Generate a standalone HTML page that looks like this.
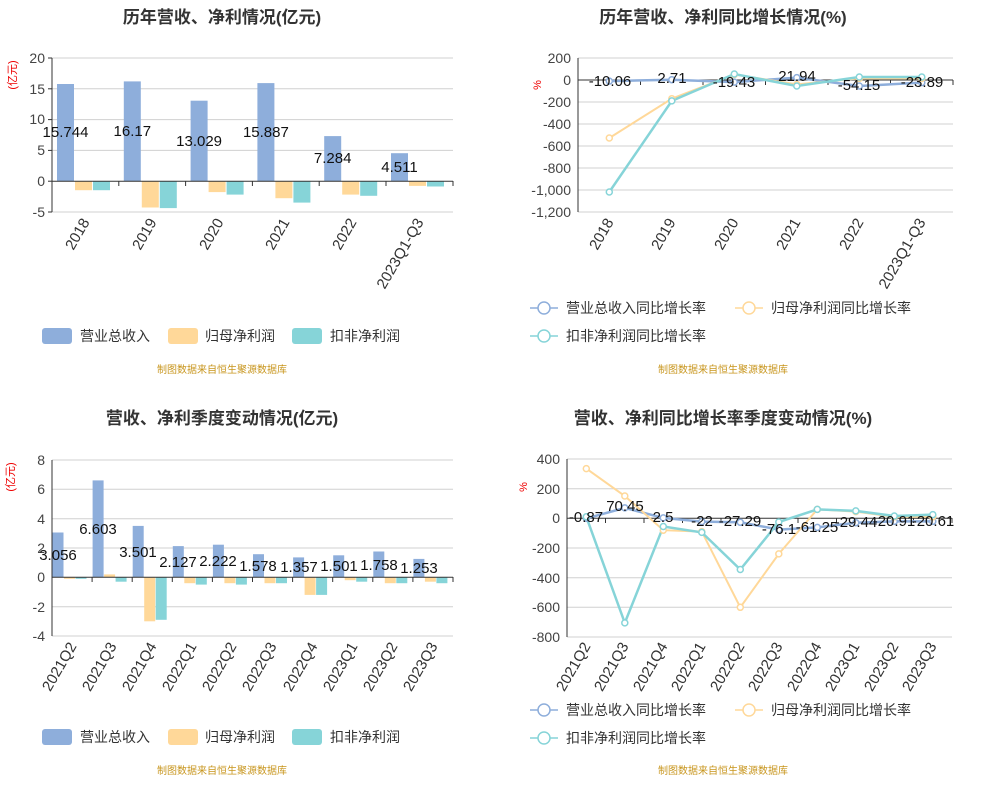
<!DOCTYPE html>
<html><head><meta charset="utf-8"><style>
body{margin:0;background:#fff}
svg{display:block;font-family:"Liberation Sans","Noto Sans CJK SC",sans-serif}
.t{font-size:17px;font-weight:bold;fill:#333;text-anchor:middle}
.ax{font-size:14px;fill:#444;text-anchor:end}
.xl{font-size:15px;fill:#333;text-anchor:end}
.lb{font-size:15px;fill:#111;text-anchor:middle}
.lg{font-size:14px;fill:#333}
.src{font-size:10px;fill:#c8961e;text-anchor:middle}
.g{stroke:#d0d0d0;stroke-width:1}
</style></head><body>
<svg width="993" height="794" viewBox="0 0 993 794">
<!-- ===== Chart 1 ===== -->
<text class="t" x="222" y="23">历年营收、净利情况(亿元)</text>
<g class="g"><line x1="52" x2="453" y1="58" y2="58"/><line x1="52" x2="453" y1="88.8" y2="88.8"/><line x1="52" x2="453" y1="119.6" y2="119.6"/><line x1="52" x2="453" y1="150.4" y2="150.4"/><line x1="52" x2="453" y1="212" y2="212"/></g>
<g class="ax"><text x="45" y="63">20</text><text x="45" y="94">15</text><text x="45" y="124">10</text><text x="45" y="155">5</text><text x="45" y="186">0</text><text x="45" y="217">-5</text></g>
<text x="16" y="75" transform="rotate(-90 16 75)" style="font-size:11px;fill:#e00;text-anchor:middle">(亿元)</text>
<g fill="#8eaedb"><rect x="57" y="84" width="17" height="97"/><rect x="123.8" y="81.4" width="17" height="99.6"/><rect x="190.6" y="100.7" width="17" height="80.3"/><rect x="257.4" y="83.1" width="17" height="97.9"/><rect x="324.2" y="136.1" width="17" height="44.9"/><rect x="391" y="153.2" width="17" height="27.8"/></g>
<g fill="#ffd899"><rect x="75" y="181" width="17" height="9.2"/><rect x="141.8" y="181" width="17" height="26.5"/><rect x="208.6" y="181" width="17" height="11.1"/><rect x="275.4" y="181" width="17" height="17.2"/><rect x="342.2" y="181" width="17" height="13.6"/><rect x="409" y="181" width="17" height="4.9"/></g>
<g fill="#86d4d8"><rect x="93" y="181" width="17" height="9.2"/><rect x="159.8" y="181" width="17" height="27.1"/><rect x="226.6" y="181" width="17" height="13.6"/><rect x="293.4" y="181" width="17" height="21.6"/><rect x="360.2" y="181" width="17" height="14.8"/><rect x="427" y="181" width="17" height="5.5"/></g>
<g stroke="#333" stroke-width="1"><line x1="52" x2="52" y1="58" y2="212"/><line x1="48" x2="52" y1="58" y2="58"/><line x1="48" x2="52" y1="88.8" y2="88.8"/><line x1="48" x2="52" y1="119.6" y2="119.6"/><line x1="48" x2="52" y1="150.4" y2="150.4"/><line x1="48" x2="52" y1="181.2" y2="181.2"/><line x1="48" x2="52" y1="212" y2="212"/>
<line x1="52" x2="453" y1="181.2" y2="181.2"/><line x1="118.8" x2="118.8" y1="181" y2="186"/><line x1="185.6" x2="185.6" y1="181" y2="186"/><line x1="252.4" x2="252.4" y1="181" y2="186"/><line x1="319.2" x2="319.2" y1="181" y2="186"/><line x1="386" x2="386" y1="181" y2="186"/><line x1="453" x2="453" y1="181" y2="186"/></g>
<g class="lb"><text x="65.5" y="137">15.744</text><text x="132.3" y="136">16.17</text><text x="199.1" y="146">13.029</text><text x="265.9" y="137">15.887</text><text x="332.7" y="163">7.284</text><text x="399.5" y="172">4.511</text></g>
<g class="xl"><text transform="translate(90,222) rotate(-60)">2018</text><text transform="translate(157,222) rotate(-60)">2019</text><text transform="translate(224,222) rotate(-60)">2020</text><text transform="translate(290,222) rotate(-60)">2021</text><text transform="translate(357,222) rotate(-60)">2022</text><text transform="translate(424,222) rotate(-60)">2023Q1-Q3</text></g>
<rect x="42" y="328" width="30" height="16" rx="3" fill="#8eaedb"/><text class="lg" x="80" y="341">营业总收入</text>
<rect x="168" y="328" width="30" height="16" rx="3" fill="#ffd899"/><text class="lg" x="205" y="341">归母净利润</text>
<rect x="292" y="328" width="30" height="16" rx="3" fill="#86d4d8"/><text class="lg" x="330" y="341">扣非净利润</text>
<text class="src" x="222" y="373">制图数据来自恒生聚源数据库</text>

<!-- ===== Chart 2 ===== -->
<text class="t" x="723" y="23">历年营收、净利同比增长情况(%)</text>
<g class="g"><line x1="578" x2="953" y1="58" y2="58"/><line x1="578" x2="953" y1="102" y2="102"/><line x1="578" x2="953" y1="124" y2="124"/><line x1="578" x2="953" y1="146" y2="146"/><line x1="578" x2="953" y1="168" y2="168"/><line x1="578" x2="953" y1="190" y2="190"/><line x1="578" x2="953" y1="212" y2="212"/></g>
<g class="ax"><text x="571" y="63">200</text><text x="571" y="85">0</text><text x="571" y="107">-200</text><text x="571" y="129">-400</text><text x="571" y="151">-600</text><text x="571" y="173">-800</text><text x="571" y="195">-1,000</text><text x="571" y="217">-1,200</text></g>
<text x="541" y="85" transform="rotate(-90 541 85)" style="font-size:11px;fill:#e00;text-anchor:middle">%</text>
<g stroke="#333" stroke-width="1"><line x1="578" x2="578" y1="58" y2="212"/><line x1="578" x2="953" y1="80" y2="80"/><line x1="640.5" x2="640.5" y1="80" y2="85"/><line x1="703" x2="703" y1="80" y2="85"/><line x1="765.5" x2="765.5" y1="80" y2="85"/><line x1="828" x2="828" y1="80" y2="85"/><line x1="890.5" x2="890.5" y1="80" y2="85"/><line x1="953" x2="953" y1="80" y2="85"/></g>
<polyline fill="none" stroke="#8eaedb" stroke-width="2.5" points="609.3,81.1 671.8,79.7 734.3,82.1 796.8,77.6 859.3,86 921.8,82.6"/>
<polyline fill="none" stroke="#ffd899" stroke-width="2" points="609.3,138 671.8,98.7 734.3,74.5 796.8,84.4 859.3,78.4 921.8,78.4"/>
<polyline fill="none" stroke="#86d4d8" stroke-width="2.5" points="609.3,192 671.8,100.9 734.3,74 796.8,86 859.3,77 921.8,77"/>
<g fill="#fff" stroke-width="1.5"><g stroke="#8eaedb"><circle cx="609.3" cy="81.1" r="3"/><circle cx="671.8" cy="79.7" r="3"/><circle cx="734.3" cy="82.1" r="3"/><circle cx="796.8" cy="77.6" r="3"/><circle cx="859.3" cy="86" r="3"/><circle cx="921.8" cy="82.6" r="3"/></g>
<g stroke="#ffd899"><circle cx="609.3" cy="138" r="3"/><circle cx="671.8" cy="98.7" r="3"/><circle cx="734.3" cy="74.5" r="3"/><circle cx="796.8" cy="84.4" r="3"/><circle cx="859.3" cy="78.4" r="3"/><circle cx="921.8" cy="78.4" r="3"/></g>
<g stroke="#86d4d8"><circle cx="609.3" cy="192" r="3"/><circle cx="671.8" cy="100.9" r="3"/><circle cx="734.3" cy="74" r="3"/><circle cx="796.8" cy="86" r="3"/><circle cx="859.3" cy="77" r="3"/><circle cx="921.8" cy="77" r="3"/></g></g>
<g class="lb"><text x="610" y="86">-10.06</text><text x="672" y="83">2.71</text><text x="734" y="87">-19.43</text><text x="797" y="81">21.94</text><text x="859" y="90">-54.15</text><text x="922" y="87">-23.89</text></g>
<g class="xl"><text transform="translate(614,222) rotate(-60)">2018</text><text transform="translate(676,222) rotate(-60)">2019</text><text transform="translate(739,222) rotate(-60)">2020</text><text transform="translate(801,222) rotate(-60)">2021</text><text transform="translate(864,222) rotate(-60)">2022</text><text transform="translate(926,222) rotate(-60)">2023Q1-Q3</text></g>
<g fill="#fff" stroke-width="1.5"><line x1="530" x2="558" y1="308" y2="308" stroke="#8eaedb"/><circle cx="544" cy="308" r="6" stroke="#8eaedb"/><line x1="735" x2="763" y1="308" y2="308" stroke="#ffd899"/><circle cx="749" cy="308" r="6" stroke="#ffd899"/><line x1="530" x2="558" y1="336" y2="336" stroke="#86d4d8"/><circle cx="544" cy="336" r="6" stroke="#86d4d8"/></g>
<text class="lg" x="566" y="313">营业总收入同比增长率</text><text class="lg" x="771" y="313">归母净利润同比增长率</text><text class="lg" x="566" y="341">扣非净利润同比增长率</text>
<text class="src" x="723" y="373">制图数据来自恒生聚源数据库</text>

<!-- ===== Chart 3 ===== -->
<text class="t" x="222" y="424">营收、净利季度变动情况(亿元)</text>
<g class="g"><line x1="52" x2="453" y1="460" y2="460"/><line x1="52" x2="453" y1="489.3" y2="489.3"/><line x1="52" x2="453" y1="518.7" y2="518.7"/><line x1="52" x2="453" y1="548" y2="548"/><line x1="52" x2="453" y1="606.7" y2="606.7"/><line x1="52" x2="453" y1="636" y2="636"/></g>
<g class="ax"><text x="45" y="465">8</text><text x="45" y="494">6</text><text x="45" y="524">4</text><text x="45" y="553">2</text><text x="45" y="582">0</text><text x="45" y="612">-2</text><text x="45" y="641">-4</text></g>
<text x="14" y="477" transform="rotate(-90 14 477)" style="font-size:11px;fill:#e00;text-anchor:middle">(亿元)</text>
<g fill="#8eaedb"><rect x="52.5" y="532.5" width="11" height="44.8"/><rect x="92.6" y="480.4" width="11" height="96.9"/><rect x="132.7" y="525.9" width="11" height="51.4"/><rect x="172.8" y="546.1" width="11" height="31.2"/><rect x="212.9" y="544.7" width="11" height="32.6"/><rect x="253" y="554.2" width="11" height="23.1"/><rect x="293.1" y="557.4" width="11" height="19.9"/><rect x="333.2" y="555.3" width="11" height="22"/><rect x="373.3" y="551.5" width="11" height="25.8"/><rect x="413.4" y="558.9" width="11" height="18.4"/></g>
<g fill="#ffd899"><rect x="64" y="577.3" width="11" height="1.5"/><rect x="104.1" y="574.4" width="11" height="2.9"/><rect x="144.2" y="577.3" width="11" height="44"/><rect x="184.3" y="577.3" width="11" height="5.9"/><rect x="224.4" y="577.3" width="11" height="5.9"/><rect x="264.5" y="577.3" width="11" height="5.9"/><rect x="304.6" y="577.3" width="11" height="17.6"/><rect x="344.7" y="577.3" width="11" height="2.9"/><rect x="384.8" y="577.3" width="11" height="5.9"/><rect x="424.9" y="577.3" width="11" height="4.4"/></g>
<g fill="#86d4d8"><rect x="75.5" y="577.3" width="11" height="1.5"/><rect x="115.6" y="577.3" width="11" height="4.4"/><rect x="155.7" y="577.3" width="11" height="42.5"/><rect x="195.8" y="577.3" width="11" height="7.3"/><rect x="235.9" y="577.3" width="11" height="7.3"/><rect x="276" y="577.3" width="11" height="5.9"/><rect x="316.1" y="577.3" width="11" height="17.6"/><rect x="356.2" y="577.3" width="11" height="4.4"/><rect x="396.3" y="577.3" width="11" height="5.9"/><rect x="436.4" y="577.3" width="11" height="5.9"/></g>
<g stroke="#333" stroke-width="1"><line x1="52" x2="52" y1="460" y2="636"/><line x1="52" x2="453" y1="577.3" y2="577.3"/><line x1="92.1" x2="92.1" y1="577" y2="582"/><line x1="132.2" x2="132.2" y1="577" y2="582"/><line x1="172.3" x2="172.3" y1="577" y2="582"/><line x1="212.4" x2="212.4" y1="577" y2="582"/><line x1="252.5" x2="252.5" y1="577" y2="582"/><line x1="292.6" x2="292.6" y1="577" y2="582"/><line x1="332.7" x2="332.7" y1="577" y2="582"/><line x1="372.8" x2="372.8" y1="577" y2="582"/><line x1="412.9" x2="412.9" y1="577" y2="582"/><line x1="453" x2="453" y1="577" y2="582"/></g>
<g class="lb"><text x="58" y="560">3.056</text><text x="98" y="534">6.603</text><text x="138" y="557">3.501</text><text x="178" y="567">2.127</text><text x="218" y="566">2.222</text><text x="258" y="571">1.578</text><text x="299" y="572">1.357</text><text x="339" y="571">1.501</text><text x="379" y="570">1.758</text><text x="419" y="573">1.253</text></g>
<g class="xl"><text transform="translate(77,646) rotate(-60)">2021Q2</text><text transform="translate(117,646) rotate(-60)">2021Q3</text><text transform="translate(157,646) rotate(-60)">2021Q4</text><text transform="translate(197,646) rotate(-60)">2022Q1</text><text transform="translate(237,646) rotate(-60)">2022Q2</text><text transform="translate(277,646) rotate(-60)">2022Q3</text><text transform="translate(318,646) rotate(-60)">2022Q4</text><text transform="translate(358,646) rotate(-60)">2023Q1</text><text transform="translate(398,646) rotate(-60)">2023Q2</text><text transform="translate(438,646) rotate(-60)">2023Q3</text></g>
<rect x="42" y="729" width="30" height="16" rx="3" fill="#8eaedb"/><text class="lg" x="80" y="742">营业总收入</text>
<rect x="168" y="729" width="30" height="16" rx="3" fill="#ffd899"/><text class="lg" x="205" y="742">归母净利润</text>
<rect x="292" y="729" width="30" height="16" rx="3" fill="#86d4d8"/><text class="lg" x="330" y="742">扣非净利润</text>
<text class="src" x="222" y="774">制图数据来自恒生聚源数据库</text>

<!-- ===== Chart 4 ===== -->
<text class="t" x="723" y="424">营收、净利同比增长率季度变动情况(%)</text>
<g class="g"><line x1="567" x2="952" y1="459" y2="459"/><line x1="567" x2="952" y1="488.7" y2="488.7"/><line x1="567" x2="952" y1="548" y2="548"/><line x1="567" x2="952" y1="577.7" y2="577.7"/><line x1="567" x2="952" y1="607.3" y2="607.3"/><line x1="567" x2="952" y1="637" y2="637"/></g>
<g class="ax"><text x="560" y="464">400</text><text x="560" y="494">200</text><text x="560" y="523">0</text><text x="560" y="553">-200</text><text x="560" y="583">-400</text><text x="560" y="612">-600</text><text x="560" y="642">-800</text></g>
<text x="527" y="487" transform="rotate(-90 527 487)" style="font-size:11px;fill:#e00;text-anchor:middle">%</text>
<g stroke="#333" stroke-width="1"><line x1="567" x2="567" y1="459" y2="637"/><line x1="567" x2="952" y1="518.3" y2="518.3"/><line x1="605.5" x2="605.5" y1="518" y2="523"/><line x1="644" x2="644" y1="518" y2="523"/><line x1="682.5" x2="682.5" y1="518" y2="523"/><line x1="721" x2="721" y1="518" y2="523"/><line x1="759.5" x2="759.5" y1="518" y2="523"/><line x1="798" x2="798" y1="518" y2="523"/><line x1="836.5" x2="836.5" y1="518" y2="523"/><line x1="875" x2="875" y1="518" y2="523"/><line x1="913.5" x2="913.5" y1="518" y2="523"/><line x1="952" x2="952" y1="518" y2="523"/></g>
<polyline fill="none" stroke="#8eaedb" stroke-width="2.5" points="586.3,518.4 624.8,507.9 663.3,517.9 701.8,521.6 740.3,522.3 778.8,529.6 817.3,527.4 855.8,522.7 894.3,521.4 932.8,521.4"/>
<polyline fill="none" stroke="#ffd899" stroke-width="2" points="586.3,468.6 624.8,496 663.3,530.2 701.8,531.6 740.3,607.3 778.8,553.9 817.3,509.4 855.8,511.6 894.3,516.8 932.8,516.8"/>
<polyline fill="none" stroke="#86d4d8" stroke-width="2.5" points="586.3,516.8 624.8,622.9 663.3,526.5 701.8,532.4 740.3,569.5 778.8,522 817.3,509.4 855.8,510.9 894.3,516 932.8,514.6"/>
<g fill="#fff" stroke-width="1.5"><g stroke="#8eaedb"><circle cx="586.3" cy="518.4" r="3"/><circle cx="624.8" cy="507.9" r="3"/><circle cx="663.3" cy="517.9" r="3"/><circle cx="701.8" cy="521.6" r="3"/><circle cx="740.3" cy="522.3" r="3"/><circle cx="778.8" cy="529.6" r="3"/><circle cx="817.3" cy="527.4" r="3"/><circle cx="855.8" cy="522.7" r="3"/><circle cx="894.3" cy="521.4" r="3"/><circle cx="932.8" cy="521.4" r="3"/></g>
<g stroke="#ffd899"><circle cx="586.3" cy="468.6" r="3"/><circle cx="624.8" cy="496" r="3"/><circle cx="663.3" cy="530.2" r="3"/><circle cx="701.8" cy="531.6" r="3"/><circle cx="740.3" cy="607.3" r="3"/><circle cx="778.8" cy="553.9" r="3"/><circle cx="817.3" cy="509.4" r="3"/><circle cx="855.8" cy="511.6" r="3"/><circle cx="894.3" cy="516.8" r="3"/><circle cx="932.8" cy="516.8" r="3"/></g>
<g stroke="#86d4d8"><circle cx="586.3" cy="516.8" r="3"/><circle cx="624.8" cy="622.9" r="3"/><circle cx="663.3" cy="526.5" r="3"/><circle cx="701.8" cy="532.4" r="3"/><circle cx="740.3" cy="569.5" r="3"/><circle cx="778.8" cy="522" r="3"/><circle cx="817.3" cy="509.4" r="3"/><circle cx="855.8" cy="510.9" r="3"/><circle cx="894.3" cy="516" r="3"/><circle cx="932.8" cy="514.6" r="3"/></g></g>
<g class="lb"><text x="586" y="522">-0.87</text><text x="625" y="511">70.45</text><text x="663" y="522">2.5</text><text x="702" y="526">-22</text><text x="740" y="526">-27.29</text><text x="779" y="534">-76.1</text><text x="817" y="532">-61.25</text><text x="856" y="527">-29.44</text><text x="894" y="526">-20.91</text><text x="933" y="526">-20.61</text></g>
<g class="xl"><text transform="translate(591,646) rotate(-60)">2021Q2</text><text transform="translate(629,646) rotate(-60)">2021Q3</text><text transform="translate(668,646) rotate(-60)">2021Q4</text><text transform="translate(706,646) rotate(-60)">2022Q1</text><text transform="translate(745,646) rotate(-60)">2022Q2</text><text transform="translate(783,646) rotate(-60)">2022Q3</text><text transform="translate(822,646) rotate(-60)">2022Q4</text><text transform="translate(860,646) rotate(-60)">2023Q1</text><text transform="translate(899,646) rotate(-60)">2023Q2</text><text transform="translate(937,646) rotate(-60)">2023Q3</text></g>
<g fill="#fff" stroke-width="1.5"><line x1="530" x2="558" y1="710" y2="710" stroke="#8eaedb"/><circle cx="544" cy="710" r="6" stroke="#8eaedb"/><line x1="735" x2="763" y1="710" y2="710" stroke="#ffd899"/><circle cx="749" cy="710" r="6" stroke="#ffd899"/><line x1="530" x2="558" y1="738" y2="738" stroke="#86d4d8"/><circle cx="544" cy="738" r="6" stroke="#86d4d8"/></g>
<text class="lg" x="566" y="715">营业总收入同比增长率</text><text class="lg" x="771" y="715">归母净利润同比增长率</text><text class="lg" x="566" y="743">扣非净利润同比增长率</text>
<text class="src" x="723" y="774">制图数据来自恒生聚源数据库</text>
</svg>
</body></html>
